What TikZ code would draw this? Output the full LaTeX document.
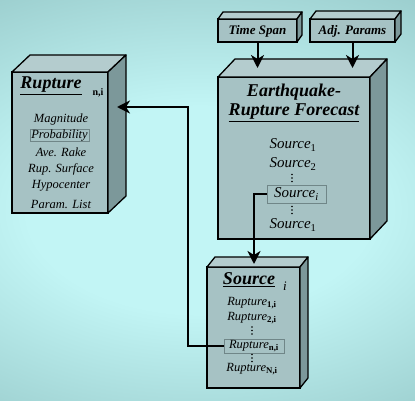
\documentclass[tikz,border=0pt]{standalone}
\usepackage{fontspec}
\setmainfont{Liberation Serif}
\usetikzlibrary{arrows.meta,calc}
\definecolor{bgin}{RGB}{194,245,245}
\definecolor{bgout}{RGB}{108,158,158}
\definecolor{frontc}{RGB}{166,194,196}
\definecolor{sidec}{RGB}{124,152,154}
\definecolor{topc}{RGB}{180,204,206}
\definecolor{inbox}{RGB}{112,134,136}
\pgfdeclareradialshading{bgshade}{\pgfpointorigin}{color(0bp)=(bgin); color(12bp)=(bgin); color(50bp)=(bgout)}
\tikzset{
  front/.style={draw=black, line width=1.3pt, fill=frontc, inner sep=0pt, outer sep=0pt},
  sideface/.style={draw=black, line width=1.3pt, fill=sidec, line join=round},
  topface/.style={draw=black, line width=1.3pt, fill=topc, line join=round},
  conn/.style={line width=2pt, -{Stealth[length=13pt,width=13pt,inset=4pt]}},
  bigtitle/.style={font=\fontsize{18}{21}\selectfont\bfseries\itshape, inner sep=0pt},
  srcitem/.style={font=\fontsize{15}{18}\selectfont\itshape, inner sep=0pt},
  smallitem/.style={font=\fontsize{12.5}{14}\selectfont\itshape, inner sep=0pt},
  inputlbl/.style={font=\fontsize{13}{15}\selectfont\bfseries\itshape, inner sep=0pt},
  hl/.style={draw=inbox, line width=0.8pt, inner sep=0pt, fill=none},
}
\newcommand\mycube[3]{%
  \filldraw[topface] (#1.north west) -- ++(#2,#3) -- ($(#1.north east)+(#2,#3)$) -- (#1.north east) -- cycle;
  \filldraw[sideface] (#1.north east) -- ++(#2,#3) -- ($(#1.south east)+(#2,#3)$) -- (#1.south east) -- cycle;}
\newcommand\vdotsat[2]{%
  \fill (#1,#2-3.5) circle (0.8pt) (#1,#2) circle (0.8pt) (#1,#2+3.5) circle (0.8pt);}
\begin{document}
\begin{tikzpicture}[x=1pt,y=-1pt]
\useasboundingbox (0,0) rectangle (415,401);
\fill[bgout] (0,0) rectangle (415,401);
\begin{scope}
  \clip (0,0) rectangle (415,401);
  \shade[shading=bgshade] (-160,-5) rectangle (560,425);
\end{scope}

% boxes
\node[front, minimum width=96pt, minimum height=141pt] (rup) at (60,142.5) {};
\mycube{rup}{18}{-17}
\node[front, minimum width=152pt, minimum height=162pt] (erf) at (294,158) {};
\mycube{erf}{17}{-18}
\node[front, minimum width=93pt, minimum height=121pt] (src) at (253.5,327.5) {};
\mycube{src}{8}{-10}
\node[front, minimum width=79pt, minimum height=23pt] (ts) at (257.5,30.5) {};
\mycube{ts}{5}{-7}
\node[front, minimum width=85pt, minimum height=23pt] (ap) at (352.5,30.5) {};
\mycube{ap}{6}{-8}

% input labels
\node[inputlbl] (tslbl) at (257.5,31) {Time Span};
\node[inputlbl] (aplbl) at (352.5,31) {Adj. Params};

% Rupture box text
\node[bigtitle] (ruptitle) at (51,86) {\underline{Rupture}};
\node[inner sep=0pt, font=\fontsize{10}{12}\selectfont\bfseries] (rupsub) at (98,93) {n,i};
\node[smallitem] (rmag) at (61,119) {Magnitude};
\node[smallitem, hl, minimum width=59pt, minimum height=11pt] (rprob) at (59.5,135.5) {Probability};
\node[smallitem] (rrake) at (61,152) {Ave. Rake};
\node[smallitem] (rsurf) at (61,169) {Rup. Surface};
\node[smallitem] (rhypo) at (61,186) {Hypocenter};
\node[smallitem] (rparam) at (61,204) {Param. List};

% ERF text
\node[bigtitle] (erft1) at (294,92) {Earthquake-};
\node[bigtitle] (erft2) at (294,113) {\underline{Rupture Forecast}};
\node[srcitem] (s1) at (293,145) {Source\textsubscript{\upshape 1}};
\node[srcitem] (s2) at (293,164) {Source\textsubscript{\upshape 2}};
\vdotsat{292}{178}
\node[srcitem, hl, minimum width=59pt, minimum height=18pt] (si) at (296.5,194) {Source\textsubscript{\itshape i}};
\vdotsat{292}{210}
\node[srcitem] (sI) at (293,225) {Source\textsubscript{\upshape 1}};

% Source box text
\node[bigtitle] (srct) at (249,280) {\underline{Source}};
\node[inner sep=0pt, font=\fontsize{13}{15}\selectfont\itshape] (srcsub) at (285,286) {i};
\node[smallitem] (r1) at (252,303) {Rupture\textsubscript{\upshape\bfseries 1,i}};
\node[smallitem] (r2) at (252,318) {Rupture\textsubscript{\upshape\bfseries 2,i}};
\vdotsat{252}{330.5}
\node[smallitem, hl, minimum width=60pt, minimum height=14pt] (rni) at (254,346) {Rupture\textsubscript{\upshape\bfseries n,i}};
\vdotsat{252}{358}
\node[smallitem] (rN) at (252,369) {Rupture\textsubscript{\upshape\bfseries N,i}};

% connectors
\coordinate (erfin1) at (257.5,68);
\coordinate (erfin2) at (352.5,68);
\coordinate (srcin) at (254,264);
\coordinate (bend) at (188,107);
\coordinate (rupin) at (117,107);
\draw[conn] (ts.south) -- (erfin1);
\draw[conn] (ap.south) -- (erfin2);
\draw[conn] (si.west) -| (srcin);
\draw[conn] (rni.west) -| (bend) -- (rupin);
\end{tikzpicture}
\end{document}
